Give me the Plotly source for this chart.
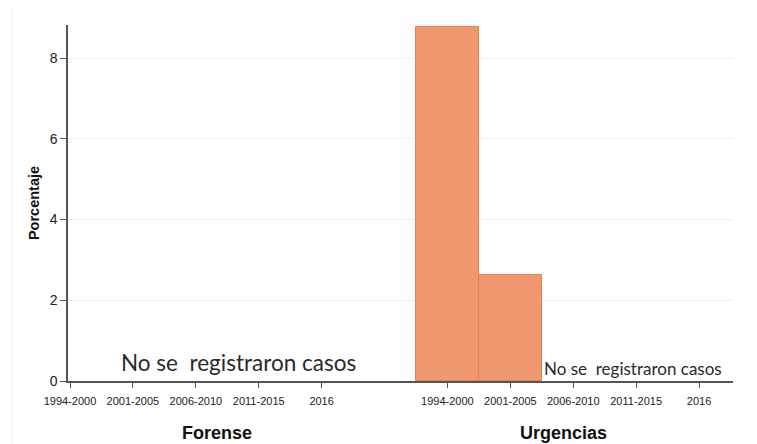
import plotly.graph_objects as go

periodos = ["1994-2000", "2001-2005", "2006-2010", "2011-2015", "2016"]
forense = [None, None, None, None, None]
urgencias = [8.78, 2.63, None, None, None]
paneles = ["Forense", "Urgencias"]
sin_casos = "No se  registraron casos"

# each panel is a block of 5 slots on one shared axis, with one empty slot between
x_forense = [i for i in range(len(periodos))]
x_urgencias = [i + len(periodos) + 1 for i in range(len(periodos))]

fig = go.Figure()
fig.add_trace(go.Bar(x=x_forense, y=forense, width=1,
                     marker=dict(color="#f0996f", line=dict(color="#e8814f", width=1))))
fig.add_trace(go.Bar(x=x_urgencias, y=urgencias, width=1,
                     marker=dict(color="#f0996f", line=dict(color="#e8814f", width=1))))

fig.update_traces(showlegend=False)

fig.update_xaxes(range=[-0.032, 10.54], tickvals=x_forense + x_urgencias,
                 ticktext=periodos + periodos, ticks="outside", ticklen=5,
                 tickcolor="#555555", showline=True, linecolor="#555555", linewidth=1.5,
                 showgrid=False, zeroline=False, ticklabelstandoff=4,
                 tickfont=dict(family="Liberation Sans, Arial", size=11, color="#222222"))
fig.update_yaxes(range=[0, 8.82], tickvals=[0, 2, 4, 6, 8], ticks="outside", ticklen=6,
                 tickcolor="#555555", showline=True, linecolor="#555555", linewidth=1.5,
                 gridcolor="#e9f1f3", gridwidth=1, zeroline=False,
                 tickfont=dict(family="Liberation Sans, Arial", size=14, color="#222222"))

fig.add_annotation(text="<b>Porcentaje</b>", textangle=-90, xref="paper", yref="paper",
                   x=-0.051, y=0.50, xanchor="center", yanchor="middle", showarrow=False,
                   font=dict(family="Liberation Sans, Arial", size=14.5, color="#111111"))
fig.add_annotation(text="<b>%s</b>" % paneles[0], xref="x", yref="paper", x=2.33, y=-0.147,
                   xanchor="center", yanchor="middle", showarrow=False,
                   font=dict(family="Liberation Sans, Arial", size=18, color="#111111"))
fig.add_annotation(text="<b>%s</b>" % paneles[1], xref="x", yref="paper", x=7.84, y=-0.147,
                   xanchor="center", yanchor="middle", showarrow=False,
                   font=dict(family="Liberation Sans, Arial", size=18, color="#111111"))
fig.add_annotation(text=sin_casos.replace("  ", "\u00a0 "), xref="x", yref="y", x=2.68, y=0.45,
                   xanchor="center", yanchor="middle", showarrow=False,
                   font=dict(family="Lato, Noto Sans", size=22.5, color="#2a2a2a"))
fig.add_annotation(text=sin_casos.replace("  ", "\u00a0 "), xref="x", yref="y", x=8.95, y=0.3,
                   xanchor="center", yanchor="middle", showarrow=False,
                   font=dict(family="Lato, Noto Sans", size=17, color="#2a2a2a"))

# faint border of the graph region on the left
fig.add_shape(type="line", xref="paper", yref="paper", x0=-0.084, x1=-0.084, y0=-0.18, y1=1.05,
              line=dict(color="#f0f0f0", width=1))

# page body keeps an 8px margin, so the figure is drawn 8px smaller
fig.update_layout(width=749, height=436, margin=dict(l=60, r=24, t=17, b=63),
                  bargap=0, plot_bgcolor="white", paper_bgcolor="white")
fig.write_html("out.html")
